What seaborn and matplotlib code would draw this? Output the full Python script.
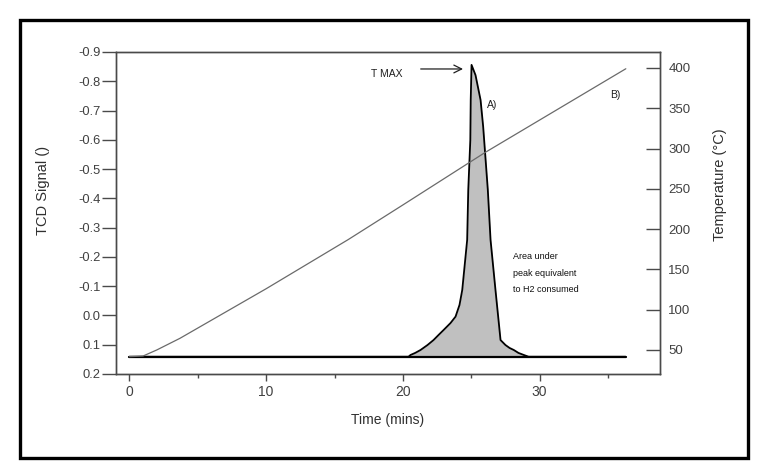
import matplotlib
matplotlib.use("Agg")
import matplotlib.pyplot as plt
import seaborn as sns
import pandas as pd
from matplotlib.patches import Rectangle
from matplotlib.ticker import MultipleLocator

# ---- data ----
sig_time = [0.0, 20.41, 20.56, 20.9, 21.29, 21.8, 22.24, 22.6, 22.97, 23.48, 23.85,
            24.14, 24.34, 24.70, 24.78, 24.93, 24.96, 25.02, 25.31, 25.68, 25.87,
            26.21, 26.41, 26.77, 27.14, 27.5, 27.8, 28.11, 28.45, 28.84, 29.19, 36.28]
sig_value = [0.141, 0.141, 0.135, 0.128, 0.118, 0.101, 0.084, 0.067, 0.050, 0.026, 0.004,
             -0.036, -0.087, -0.258, -0.429, -0.599, -0.736, -0.856, -0.821, -0.736, -0.645,
             -0.429, -0.258, -0.087, 0.084, 0.101, 0.111, 0.118, 0.128, 0.135, 0.141, 0.141]
temp_time = [0.0, 1.0, 2.0, 3.7, 10.0, 16.0, 20.0, 26.0, 36.3]
temp_value = [41.7, 42.5, 50.0, 64.5, 126.0, 187.0, 230.0, 295.0, 399.0]
baseline = 0.141

x_major = [0, 10, 20, 30]
y_left_ticks = [-0.9, -0.8, -0.7, -0.6, -0.5, -0.4, -0.3, -0.2, -0.1, 0.0, 0.1, 0.2]
y_left_labels = ["-0.9", "-0.8", "-0.7", "-0.6", "-0.5", "-0.4", "-0.3", "-0.2", "-0.1", "0.0", "0.1", "0.2"]
y_right_ticks = [50, 100, 150, 200, 250, 300, 350, 400]

sig_df = pd.DataFrame({"time": sig_time, "signal": sig_value})
temp_df = pd.DataFrame({"time": temp_time, "temp": temp_value})

sns.set_theme(style="white")
plt.rcParams["font.family"] = ["Liberation Sans", "DejaVu Sans"]

fig = plt.figure(figsize=(7.66, 4.75), dpi=100)
ax = fig.add_axes([115.7 / 766, 1 - 374 / 475, (660 - 115.7) / 766, (374 - 52) / 475])
ax2 = ax.twinx()

# fill + signal
ax.fill_between(sig_df["time"], sig_df["signal"], baseline, color="#c0c0c0", lw=0, zorder=1)
sns.lineplot(data=sig_df, x="time", y="signal", ax=ax, color="black", lw=1.3,
             estimator=None, sort=False, zorder=3)
ax.plot([sig_time[0], sig_time[-1]], [baseline, baseline], color="black", lw=1.6, zorder=3)

# temperature
sns.lineplot(data=temp_df, x="time", y="temp", ax=ax2, color="#6a6a6a", lw=0.9,
             estimator=None, sort=False)

ax.set_xlim(-1, 38.8)
ax.set_ylim(0.2, -0.9)
ax2.set_ylim(20.2, 419.8)

spine_c = "#4a4a4a"
for a in (ax, ax2):
    for s in a.spines.values():
        s.set_color(spine_c)
        s.set_linewidth(1.0)

ax.set_xticks(x_major)
ax.set_xticklabels([str(v) for v in x_major])
ax.xaxis.set_minor_locator(MultipleLocator(5))
ax.tick_params(axis="x", which="major", direction="out", length=5, width=1, color=spine_c,
               labelsize=10, labelcolor="#404040", pad=3, bottom=True)
ax.tick_params(axis="x", which="minor", direction="out", length=3, width=1, color=spine_c, bottom=True)

ax.set_yticks(y_left_ticks)
ax.set_yticklabels(y_left_labels)
ax.tick_params(axis="y", direction="out", length=10, width=1, color=spine_c,
               labelsize=9.3, labelcolor="#404040", pad=1, left=True)

ax2.set_yticks(y_right_ticks)
ax2.tick_params(axis="y", direction="in", length=10, width=1, color=spine_c,
                labelsize=9.5, labelcolor="#404040", pad=6, right=True)

ax.set_xlabel("Time (mins)", fontsize=10, color="#303030", labelpad=10)
ax.set_ylabel("TCD Signal ()", fontsize=10.5, color="#303030", labelpad=20)
ax.yaxis.label.set_y(0.571)
ax2.set_ylabel("Temperature (°C)", fontsize=10.5, color="#303030", labelpad=16)
ax2.yaxis.label.set_y(0.587)

# annotations
ax.text(20.0, -0.825, "T MAX", fontsize=7.5, ha="right", va="center", color="#202020")
ax.annotate("", xy=(24.6, -0.842), xytext=(21.1, -0.842),
            arrowprops=dict(arrowstyle="->", lw=0.9, color="#202020", mutation_scale=14))
ax.text(26.55, -0.719, "A)", fontsize=7.5, ha="center", va="center", color="#202020")
ax.text(35.55, -0.753, "B)", fontsize=7.5, ha="center", va="center", color="#202020")
for i, line in enumerate(["Area under", "peak equivalent", "to H2 consumed"]):
    ax.text(28.07, -0.201 + i * 0.057, line, fontsize=6.5, ha="left", va="center", color="#101010")

# outer frame
fig.patches.append(Rectangle((20 / 766, 1 - 458 / 475), (748 - 20) / 766, (458 - 20) / 475,
                             transform=fig.transFigure, fill=False, ec="black", lw=2.4))

fig.savefig("out.png", dpi=100)
